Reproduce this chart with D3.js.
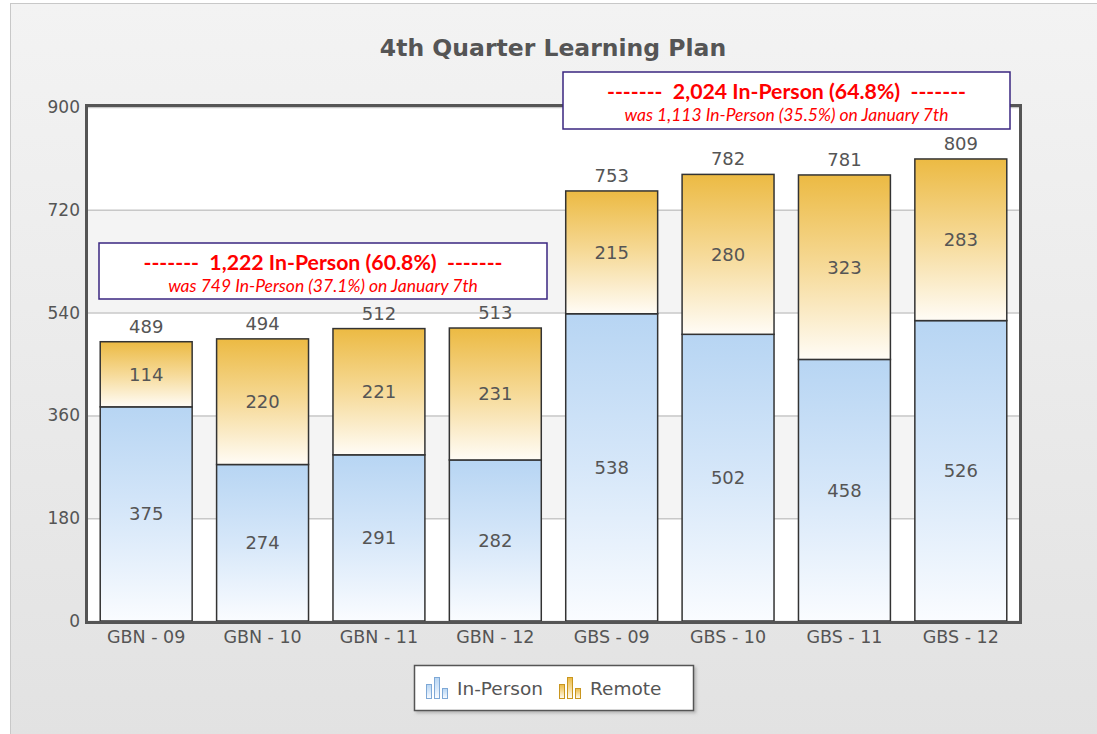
<html>
<head>
<meta charset="utf-8">
<title>4th Quarter Learning Plan</title>
<script src="https://d3js.org/d3.v7.min.js"></script>
<style>
  body { margin: 0; overflow: hidden; }
  svg text { font-family: "DejaVu Sans", Verdana, sans-serif; }
</style>
</head>
<body>
<script>
// chart data
var categories = ["GBN - 09", "GBN - 10", "GBN - 11", "GBN - 12", "GBS - 09", "GBS - 10", "GBS - 11", "GBS - 12"];
var inPerson = [375, 274, 291, 282, 538, 502, 458, 526];
var remote = [114, 220, 221, 231, 215, 280, 323, 283];
var totals = [489, 494, 512, 513, 753, 782, 781, 809];
var yTicks = [0, 180, 360, 540, 720, 900];
var seriesNames = ["In-Person", "Remote"];
var notes = [
  { head: "-------  1,222 In-Person (60.8%)  -------", sub: "was 749 In-Person (37.1%) on January 7th" },
  { head: "-------  2,024 In-Person (64.8%)  -------", sub: "was 1,113 In-Person (35.5%) on January 7th" }
];

var width = 1097, height = 734;
var svg = d3.select("body").append("svg")
    .attr("width", width)
    .attr("height", height);

var defs = svg.append("defs");

// page background
var bg = defs.append("linearGradient").attr("id", "bg").attr("x1", 0).attr("y1", 0).attr("x2", 0).attr("y2", 1);
bg.append("stop").attr("offset", 0).attr("stop-color", "#f3f3f3");
bg.append("stop").attr("offset", 1).attr("stop-color", "#e2e2e2");

var gBlue = defs.append("linearGradient").attr("id", "blue").attr("x1", 0).attr("y1", 0).attr("x2", 0).attr("y2", 1);
gBlue.append("stop").attr("offset", 0).attr("stop-color", "#b7d5f3");
gBlue.append("stop").attr("offset", 0.5).attr("stop-color", "#d6e7f9");
gBlue.append("stop").attr("offset", 1).attr("stop-color", "#fafcff");

var gGold = defs.append("linearGradient").attr("id", "gold").attr("x1", 0).attr("y1", 0).attr("x2", 0).attr("y2", 1);
gGold.append("stop").attr("offset", 0).attr("stop-color", "#ecba43");
gGold.append("stop").attr("offset", 0.5).attr("stop-color", "#f6da98");
gGold.append("stop").attr("offset", 1).attr("stop-color", "#fffcf6");

var shadow = defs.append("filter").attr("id", "shadow").attr("x", -0.1).attr("y", -0.3).attr("width", 1.2).attr("height", 1.6);
shadow.append("feDropShadow").attr("dx", 2).attr("dy", 2).attr("stdDeviation", 1.5)
    .attr("flood-color", "#888").attr("flood-opacity", 0.5);

svg.append("rect").attr("x", 0).attr("y", 0).attr("width", width).attr("height", height).attr("fill", "#fff");
svg.append("rect")
    .attr("x", 10.5).attr("y", 3.5).attr("width", width).attr("height", height)
    .attr("fill", "url(#bg)").attr("stroke", "#c8c8c8").attr("stroke-width", 1);

// scales
var plotL = 88, plotR = 1019, plotT = 107, plotB = 621;
var x = d3.scaleBand().domain(categories).range([plotL, plotR]).paddingInner(0.21).paddingOuter(0.105);
var y = d3.scaleLinear().domain([0, 900]).range([plotB, plotT]);

// plot background + bands
svg.append("rect").attr("x", plotL).attr("y", plotT).attr("width", plotR - plotL).attr("height", plotB - plotT).attr("fill", "#fff");
var bands = d3.range(yTicks.length - 1).filter(function(i) { return i % 2 === 1; });
svg.selectAll(".band").data(bands).enter().append("rect")
    .attr("x", plotL).attr("width", plotR - plotL)
    .attr("y", function(i) { return y(yTicks[i + 1]); })
    .attr("height", function(i) { return y(yTicks[i]) - y(yTicks[i + 1]); })
    .attr("fill", "#f4f4f4");

// gridlines + y labels
var yAxis = svg.append("g").attr("transform", "translate(" + plotL + ",0)")
    .call(d3.axisLeft(y).tickValues(yTicks).tickSize(-(plotR - plotL)).tickPadding(8));
yAxis.select(".domain").remove();
yAxis.selectAll(".tick line").attr("stroke", "#c8c8c8").attr("stroke-width", 1.5);
yAxis.selectAll(".tick text").attr("fill", "#555").attr("font-size", "17px")
    .attr("font-family", "DejaVu Sans, Verdana, sans-serif");

// stacked bars
var rows = categories.map(function(c, i) { return { cat: c, inPerson: inPerson[i], remote: remote[i], total: totals[i] }; });
var stack = d3.stack().keys(["inPerson", "remote"])(rows);
var fills = ["url(#blue)", "url(#gold)"];

stack.forEach(function(layer, k) {
  svg.append("g").selectAll("rect").data(layer).enter().append("rect")
      .attr("x", function(d) { return x(d.data.cat); })
      .attr("width", x.bandwidth())
      .attr("y", function(d) { return y(d[1]); })
      .attr("height", function(d) { return y(d[0]) - y(d[1]); })
      .attr("fill", fills[k])
      .attr("stroke", "#333")
      .attr("stroke-width", 1.5);
  svg.append("g").selectAll("text").data(layer).enter().append("text")
      .attr("x", function(d) { return x(d.data.cat) + x.bandwidth() / 2; })
      .attr("y", function(d) { return (y(d[0]) + y(d[1])) / 2 + 6.5; })
      .attr("text-anchor", "middle")
      .attr("font-size", "18px")
      .attr("fill", "#555")
      .text(function(d) { return d[1] - d[0]; });
});

// totals
svg.append("g").selectAll("text").data(rows).enter().append("text")
    .attr("x", function(d) { return x(d.cat) + x.bandwidth() / 2; })
    .attr("y", function(d) { return y(d.total) - 9; })
    .attr("text-anchor", "middle")
    .attr("font-size", "18px")
    .attr("fill", "#555")
    .text(function(d) { return d.total; });

// plot frame
svg.append("path")
    .attr("d", "M" + (plotL - 1.5) + "," + (plotB + 1.5) + "V" + (plotT - 1.5) + "H" + (plotR + 1.5) + "V" + (plotB + 1.5) + "Z")
    .attr("fill", "none").attr("stroke", "#555").attr("stroke-width", 3);

// x axis labels
var xAxis = svg.append("g").attr("transform", "translate(0," + plotB + ")")
    .call(d3.axisBottom(x).tickSize(0).tickPadding(10));
xAxis.select(".domain").remove();
xAxis.selectAll(".tick text").attr("fill", "#555").attr("font-size", "17.5px")
    .attr("font-family", "DejaVu Sans, Verdana, sans-serif");

// title
svg.append("text")
    .attr("x", 553).attr("y", 56)
    .attr("text-anchor", "middle")
    .attr("font-size", "23.5px").attr("font-weight", "bold")
    .attr("fill", "#555")
    .text("4th Quarter Learning Plan");

// annotation boxes
var boxes = [{ x: 99, y: 243, w: 448, h: 56 }, { x: 563, y: 72, w: 447, h: 57 }];
boxes.forEach(function(b, i) {
  var g = svg.append("g");
  g.append("rect").attr("x", b.x).attr("y", b.y).attr("width", b.w).attr("height", b.h)
      .attr("fill", "#fff").attr("stroke", "#3a2680").attr("stroke-width", 1.5);
  g.append("text")
      .attr("x", b.x + b.w / 2).attr("y", b.y + 27)
      .attr("text-anchor", "middle")
      .style("font-family", "Lato, 'Open Sans', sans-serif")
      .attr("font-size", "21px").attr("font-weight", "bold")
      .attr("fill", "#ff0000")
      .attr("xml:space", "preserve")
      .attr("textLength", 359).attr("lengthAdjust", "spacingAndGlyphs")
      .text(notes[i].head);
  g.append("text")
      .attr("x", b.x + b.w / 2).attr("y", b.y + 49)
      .attr("text-anchor", "middle")
      .style("font-family", "Lato, 'Open Sans', sans-serif")
      .attr("font-size", "17.5px").attr("font-style", "italic")
      .attr("fill", "#ff0000")
      .text(notes[i].sub);
});

// legend
var legend = svg.append("g");
legend.append("rect").attr("x", 414.5).attr("y", 665.5).attr("width", 279).attr("height", 45)
    .attr("fill", "#fff").attr("stroke", "#555").attr("stroke-width", 1.5).attr("filter", "url(#shadow)");
var legendX = [426, 559];
var iconStroke = ["#7ea8d6", "#c9961f"];
seriesNames.forEach(function(name, i) {
  var gx = legendX[i];
  var ig = legend.append("g");
  [[0, 7, 14], [8, 0, 21], [16, 11, 10]].forEach(function(b) {
    ig.append("rect").attr("x", gx + b[0] + 0.5).attr("y", 677 + b[1] + 0.5)
        .attr("width", 5).attr("height", b[2])
        .attr("fill", fills[i]).attr("stroke", iconStroke[i]).attr("stroke-width", 1);
  });
  legend.append("text").attr("x", gx + 31).attr("y", 695)
      .attr("font-size", "18.5px").attr("fill", "#555")
      .text(name);
});
</script>
</body>
</html>
